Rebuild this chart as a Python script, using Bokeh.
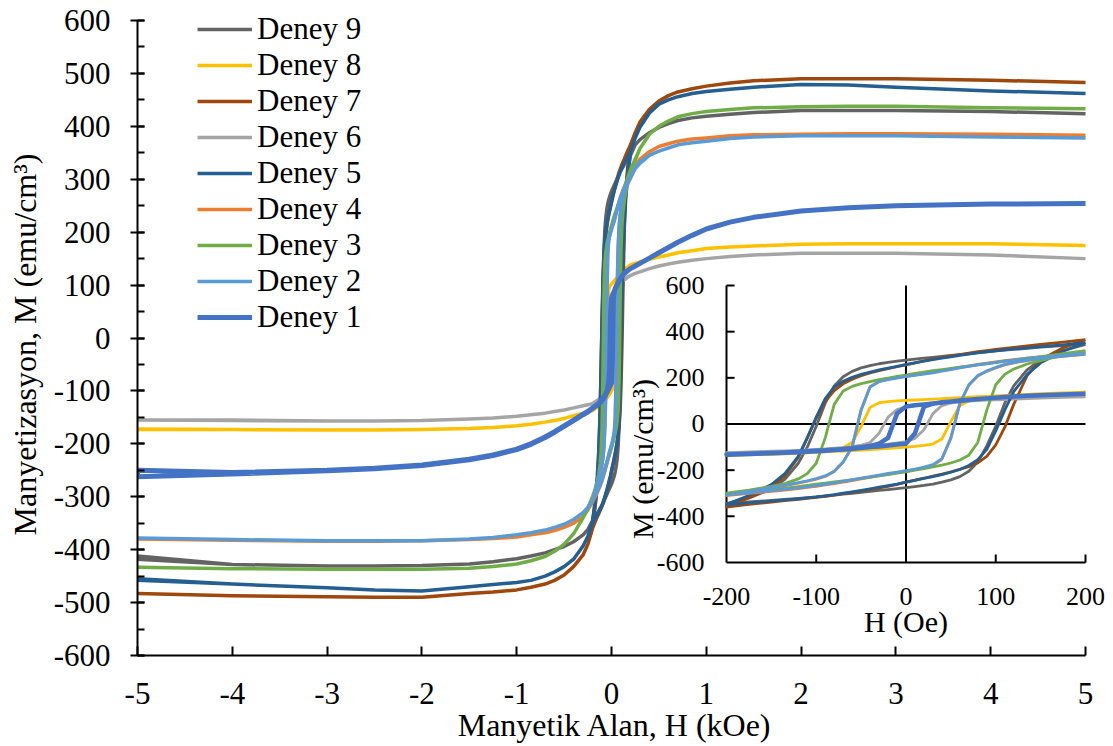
import math
from bokeh.plotting import figure
from bokeh.models import (Range1d, SingleIntervalTicker, Legend, LegendItem,
                          PrintfTickFormatter, LabelSet, ColumnDataSource)
from bokeh.core.properties import value
from bokeh.embed import file_html
from bokeh.resources import INLINE

# ---------------- data ----------------
# field grid in Oe: descending branch (+5 kOe -> -5 kOe) and ascending branch (-5 kOe -> +5 kOe)
h_down = [5000, 4000, 3000, 2500, 2000, 1500, 1250, 1000, 850, 700, 600, 500, 400, 300, 250,
          200, 175, 150, 135, 120, 110, 100, 90, 80, 70, 60, 50, 40, 30, 20, 10,
          0,
          -10, -20, -30, -40, -50, -60, -70, -80, -90, -100, -110, -120, -135, -150, -175, -200,
          -250, -300, -400, -500, -600, -700, -850, -1000, -1250, -1500, -2000, -2500, -3000, -4000, -5000]
h_up = [-5000, -4000, -3000, -2500, -2000, -1500, -1250, -1000, -850, -700, -600, -500, -400, -300, -250,
        -200, -175, -150, -135, -120, -110, -100, -90, -80, -70, -60, -50, -40, -30, -20, -10,
        0,
        10, 20, 30, 40, 50, 60, 70, 80, 90, 100, 110, 120, 135, 150, 175, 200,
        250, 300, 400, 500, 600, 700, 850, 1000, 1250, 1500, 2000, 2500, 3000, 4000, 5000]

series_names = ["Deney 9", "Deney 8", "Deney 7", "Deney 6", "Deney 5",
                "Deney 4", "Deney 3", "Deney 2", "Deney 1"]

m9_down = [424, 428, 430, 430, 430, 426, 423, 419, 416, 411, 405, 398, 388, 375, 365,
           348, 340, 333, 328, 323, 320, 317, 313, 309, 305, 301, 297, 293, 289, 285, 281,
           277,
           272, 267, 261, 253, 243, 228, 205, 165, 90, -10, -100, -170, -240, -282, -320, -345,
           -362, -372, -385, -394, -400, -406, -412, -417, -423, -427, -430, -431, -431, -428, -418]
m9_up = [-412, -428, -431, -431, -430, -427, -423, -417, -412, -406, -400, -394, -385, -372, -362,
         -345, -338, -331, -327, -322, -319, -316, -312, -308, -304, -300, -296, -292, -288, -284, -280,
         -276,
         -271, -266, -260, -252, -242, -228, -205, -165, -95, -10, 90, 165, 235, 278, 318, 345,
         365, 375, 388, 398, 405, 411, 416, 419, 423, 426, 430, 430, 430, 428, 424]

m8_down = [175, 178, 178, 178, 177, 174, 172, 169, 165, 161, 157, 153, 149, 144, 141,
           138, 134, 131, 128, 126, 124, 122, 120, 118, 116, 114, 112, 110, 108, 106, 104,
           102,
           100, 97, 92, 72, -10, -80, -102, -112, -117, -120, -123, -125, -128, -131, -134, -137,
           -140, -142, -147, -152, -156, -159, -163, -166, -169, -171, -173, -174, -174, -173, -172]
m8_up = [-173, -173, -174, -174, -173, -171, -169, -166, -163, -159, -156, -152, -147, -142, -140,
         -137, -134, -131, -129, -127, -125, -123, -121, -119, -117, -115, -113, -111, -109, -106, -103,
         -100,
         -97, -93, -87, -65, 10, 80, 100, 110, 115, 119, 122, 125, 128, 131, 135, 138,
         141, 144, 149, 153, 157, 161, 165, 169, 172, 174, 177, 178, 178, 178, 175]

m7_down = [483, 487, 490, 490, 490, 486, 482, 476, 471, 465, 458, 448, 432, 408, 388,
           365, 355, 345, 338, 332, 328, 323, 318, 313, 307, 301, 295, 288, 281, 273, 265,
           256,
           248, 240, 231, 221, 209, 194, 174, 145, 98, 25, -60, -145, -225, -275, -320, -358,
           -390, -410, -432, -448, -458, -465, -471, -476, -480, -483, -490, -490, -489, -487, -483]
m7_up = [-483, -487, -489, -490, -490, -483, -480, -476, -471, -465, -458, -448, -432, -410, -390,
         -360, -348, -338, -332, -326, -322, -318, -313, -308, -302, -296, -290, -284, -277, -270, -262,
         -252,
         -243, -235, -226, -217, -207, -196, -185, -168, -140, -90, -15, 85, 210, 278, 330, 365,
         388, 408, 432, 448, 458, 465, 471, 476, 482, 486, 490, 490, 490, 487, 483]

m6_down = [150, 157, 160, 160, 160, 157, 154, 150, 147, 143, 140, 136, 131, 125, 122,
           118, 115, 112, 110, 108, 106, 105, 103, 101, 99, 97, 95, 92, 89, 85, 80,
           74,
           62, 30, -40, -80, -92, -98, -102, -105, -108, -110, -112, -114, -116, -118, -121, -124,
           -126, -128, -132, -136, -139, -142, -145, -148, -151, -153, -156, -157, -157, -155, -155]
m6_up = [-155, -156, -157, -157, -156, -153, -151, -148, -145, -142, -139, -136, -132, -128, -126,
         -124, -121, -118, -116, -114, -112, -110, -108, -106, -104, -101, -98, -95, -91, -87, -82,
         -76,
         -62, -25, 45, 80, 91, 97, 100, 102, 104, 106, 108, 110, 112, 114, 116, 118,
         122, 125, 131, 136, 140, 143, 147, 150, 154, 157, 160, 160, 160, 157, 150]

m5_down = [462, 467, 474, 478, 479, 474, 470, 466, 462, 456, 450, 442, 425, 398, 378,
           352, 343, 335, 330, 325, 321, 317, 313, 308, 303, 297, 291, 285, 279, 272, 265,
           258,
           250, 242, 234, 225, 215, 202, 185, 160, 110, 30, -60, -140, -215, -262, -310, -348,
           -375, -393, -418, -432, -442, -450, -458, -462, -466, -470, -478, -476, -472, -465, -458]
m5_up = [-455, -465, -472, -476, -478, -470, -466, -462, -458, -450, -442, -432, -418, -393, -375,
         -350, -342, -334, -329, -324, -320, -316, -311, -306, -300, -294, -288, -281, -274, -267, -260,
         -252,
         -244, -236, -228, -219, -209, -197, -180, -155, -110, -30, 60, 140, 215, 265, 315, 352,
         378, 398, 425, 442, 450, 456, 462, 466, 470, 474, 479, 478, 474, 467, 462]

m4_down = [383, 385, 386, 386, 385, 384, 382, 378, 376, 372, 367, 362, 352, 338, 325,
           308, 300, 291, 285, 279, 274, 269, 264, 258, 252, 245, 238, 231, 224, 218, 213,
           207,
           201, 194, 185, 162, 62, -98, -165, -206, -227, -239, -248, -256, -267, -278, -295, -310,
           -325, -338, -350, -358, -364, -368, -372, -376, -379, -381, -383, -384, -384, -382, -380]
m4_up = [-380, -382, -384, -384, -383, -381, -379, -376, -372, -368, -364, -358, -350, -338, -325,
         -310, -301, -292, -286, -280, -275, -270, -264, -258, -252, -245, -238, -231, -224, -217, -211,
         -205,
         -198, -190, -179, -153, -62, 88, 168, 208, 228, 243, 256, 265, 275, 283, 293, 302,
         322, 335, 352, 362, 367, 372, 376, 378, 382, 384, 385, 386, 386, 385, 383]

m3_down = [433, 435, 438, 438, 437, 435, 432, 428, 424, 418, 410, 400, 385, 358, 338,
           318, 305, 292, 285, 277, 272, 266, 261, 256, 251, 246, 241, 236, 231, 225, 219,
           212,
           206, 199, 192, 184, 175, 163, 143, 85, -60, -170, -215, -238, -258, -270, -287, -300,
           -322, -340, -370, -390, -403, -413, -421, -427, -432, -435, -437, -437, -437, -436, -433]
m3_up = [-433, -436, -437, -437, -437, -435, -432, -427, -421, -413, -403, -390, -370, -340, -322,
         -305, -296, -285, -278, -271, -266, -261, -256, -251, -246, -241, -236, -230, -225, -219, -213,
         -207,
         -200, -193, -186, -178, -169, -156, -135, -80, 60, 170, 215, 238, 260, 275, 298, 315,
         336, 358, 385, 400, 410, 418, 424, 428, 432, 435, 437, 438, 438, 435, 433]

m2_down = [378, 380, 382, 382, 382, 380, 377, 372, 369, 365, 359, 353, 345, 333, 322,
           306, 298, 289, 283, 277, 272, 267, 262, 256, 250, 243, 236, 229, 222, 216, 211,
           205,
           199, 192, 183, 160, 60, -100, -165, -205, -225, -237, -246, -254, -265, -275, -292, -307,
           -320, -330, -343, -352, -358, -363, -368, -372, -377, -380, -383, -383, -383, -381, -378]
m2_up = [-378, -381, -383, -383, -383, -380, -377, -372, -368, -363, -358, -352, -343, -330, -320,
         -307, -298, -289, -283, -277, -272, -267, -261, -255, -249, -242, -235, -228, -221, -214, -208,
         -202,
         -195, -187, -176, -150, -60, 90, 170, 210, 230, 245, 258, 266, 276, 284, 294, 303,
         320, 330, 345, 353, 359, 365, 369, 372, 377, 380, 382, 382, 382, 380, 378]

m1_down = [254, 253, 250, 246, 240, 228, 219, 206, 194, 181, 171, 161, 151, 141, 136,
           131, 128, 124, 122, 119, 117, 114, 111, 108, 104, 101, 97, 93, 89, 85, 81,
           76,
           45, -60, -85, -95, -101, -105, -108, -111, -114, -116, -118, -120, -123, -126, -129, -132,
           -139, -144, -155, -166, -177, -187, -200, -210, -221, -229, -240, -246, -250, -254, -250]
m1_up = [-262, -257, -251, -247, -241, -230, -222, -211, -201, -188, -178, -167, -156, -145, -140,
         -133, -130, -127, -125, -122, -120, -118, -116, -113, -110, -107, -104, -100, -97, -93, -89,
         -85,
         -40, 75, 88, 94, 98, 102, 105, 108, 111, 114, 117, 119, 122, 125, 128, 131,
         136, 141, 151, 161, 171, 181, 194, 206, 219, 228, 240, 246, 250, 253, 254]

series_down = [m9_down, m8_down, m7_down, m6_down, m5_down, m4_down, m3_down, m2_down, m1_down]
series_up = [m9_up, m8_up, m7_up, m6_up, m5_up, m4_up, m3_up, m2_up, m1_up]

main_x_ticks = [-5, 5]
main_y_ticks = [-600, 600]
inset_x_ticks = [-200, -100, 0, 100, 200]
inset_y_ticks = [-600, -400, -200, 0, 200, 400, 600]

# ---------------- styles ----------------
colors = ["#636363", "#FFC000", "#9E480E", "#A5A5A5", "#255E91",
          "#ED7D31", "#70AD47", "#5B9BD5", "#4472C4"]
main_widths = [3.5, 3.5, 3.5, 3.5, 3.5, 3.5, 3.5, 3.5, 5]
inset_widths = [2.8, 2.8, 2.8, 2.8, 2.8, 2.8, 2.8, 2.8, 4.5]
FONT = "Liberation Serif"
NB = "\u00a0"

# frame spans x 137..1108 px and y 9..655 px; the main axes are bounded to the data box
p = figure(width=1113, height=746,
           x_range=Range1d(-5, 5.2426), y_range=Range1d(-600, 620.79),
           output_backend="svg", toolbar_location=None,
           min_border_left=137, min_border_right=5,
           min_border_top=9, min_border_bottom=91)
p.background_fill_color = "white"
p.border_fill_color = "white"
p.outline_line_color = None
p.xgrid.visible = False
p.ygrid.visible = False

p.xaxis.ticker = SingleIntervalTicker(interval=1, num_minor_ticks=0)
p.yaxis.ticker = SingleIntervalTicker(interval=100, num_minor_ticks=2)
p.xaxis.bounds = (main_x_ticks[0], main_x_ticks[-1])
p.yaxis.bounds = (main_y_ticks[0], main_y_ticks[-1])
p.xaxis.formatter = PrintfTickFormatter(format="%d")
p.yaxis.formatter = PrintfTickFormatter(format="%d")
p.xaxis.axis_label = "Manyetik Alan, H (kOe)" + NB * 2
p.yaxis.axis_label = "Manyetizasyon, M (emu/cm³)" + NB * 3
for ax in (p.xaxis[0], p.yaxis[0]):
    ax.axis_line_color = "black"
    ax.axis_line_width = 2
    ax.major_tick_line_color = "black"
    ax.major_tick_line_width = 2
    ax.minor_tick_line_color = "black"
    ax.minor_tick_line_width = 2
    ax.major_label_text_font = FONT
    ax.major_label_text_font_size = "31px"
    ax.major_label_text_color = "black"
    ax.axis_label_text_font = FONT
    ax.axis_label_text_font_size = "32px"
    ax.axis_label_text_font_style = "normal"
    ax.axis_label_text_color = "black"

p.xaxis.major_tick_in = 9
p.xaxis.major_tick_out = 0
p.xaxis.minor_tick_in = 0
p.xaxis.minor_tick_out = 0
p.xaxis.major_label_standoff = 27
p.xaxis.axis_label_standoff = 0

p.yaxis.major_tick_in = 7
p.yaxis.major_tick_out = 7
p.yaxis.minor_tick_in = 7
p.yaxis.minor_tick_out = 0
p.yaxis.major_label_standoff = 20
p.yaxis.axis_label_standoff = 8

# ---------------- main loops ----------------
renderers = []
for i, name in enumerate(series_names):
    xs = [h / 1000 for h in h_down] + [h / 1000 for h in h_up]
    ys = series_down[i] + series_up[i]
    r = p.line(xs, ys, line_color=colors[i], line_width=main_widths[i], line_join="round")
    renderers.append(r)

legend = Legend(items=[LegendItem(label=n, renderers=[r]) for n, r in zip(series_names, renderers)],
                location=(60, 320))
legend.label_text_font = FONT
legend.label_text_font_size = "31px"
legend.label_text_color = "black"
legend.glyph_width = 55
legend.glyph_height = 34
legend.label_height = 34
legend.label_standoff = 5
legend.spacing = 0
legend.padding = 0
legend.margin = 0
legend.border_line_color = None
legend.background_fill_alpha = 0
p.add_layout(legend)

# ---------------- inset (own scales mapped over the frame) ----------------
p.extra_x_ranges = {"ix": Range1d(-856.27, 225.63)}
p.extra_y_ranges = {"iy": Range1d(-1002.9, 1795.67)}
IK = dict(x_range_name="ix", y_range_name="iy")

xmin, xmax = inset_x_ticks[0], inset_x_ticks[-1]
ymin, ymax = inset_y_ticks[0], inset_y_ticks[-1]

# axis lines and zero lines
p.segment(x0=[xmin, xmin, 0, xmin], y0=[ymin, ymin, ymin, 0],
          x1=[xmin, xmax, 0, xmax], y1=[ymax, ymin, ymax, 0],
          line_color="black", line_width=2, **IK)
# ticks (inside)
ytk = [v for v in inset_y_ticks if v != ymin]
p.segment(x0=[xmin] * len(ytk), y0=ytk, x1=[xmin + 9] * len(ytk), y1=ytk,
          line_color="black", line_width=2, **IK)
xtk = [v for v in inset_x_ticks if v != xmin]
p.segment(x0=xtk, y0=[ymin] * len(xtk), x1=xtk, y1=[ymin + 35] * len(xtk),
          line_color="black", line_width=2, **IK)

for i, name in enumerate(series_names):
    xs, ys = [], []
    for h, m in zip(h_down, series_down[i]):
        if abs(h) <= xmax:
            xs.append(h); ys.append(m)
    for h, m in zip(h_up, series_up[i]):
        if abs(h) <= xmax:
            xs.append(h); ys.append(m)
    p.line(xs, ys, line_color=colors[i], line_width=inset_widths[i], line_join="round", **IK)

# inset tick labels and titles
ysrc = ColumnDataSource(dict(x=[xmin] * len(inset_y_ticks), y=inset_y_ticks,
                             t=[str(v) for v in inset_y_ticks]))
p.add_layout(LabelSet(x="x", y="y", text="t", source=ysrc, x_range_name="ix", y_range_name="iy",
                      text_font=value(FONT), text_font_size=value("26px"), text_color="black",
                      text_align="right", text_baseline="middle", x_offset=-22))
xsrc = ColumnDataSource(dict(x=inset_x_ticks, y=[ymin] * len(inset_x_ticks),
                             t=[str(v) for v in inset_x_ticks]))
p.add_layout(LabelSet(x="x", y="y", text="t", source=xsrc, x_range_name="ix", y_range_name="iy",
                      text_font=value(FONT), text_font_size=value("26px"), text_color="black",
                      text_align="center", text_baseline="middle", y_offset=-34))
tsrc = ColumnDataSource(dict(x=[0], y=[ymin], t=["H (Oe)"]))
p.add_layout(LabelSet(x="x", y="y", text="t", source=tsrc, x_range_name="ix", y_range_name="iy",
                      text_font=value(FONT), text_font_size=value("30px"), text_color="black",
                      text_align="center", text_baseline="middle", y_offset=-59))
msrc = ColumnDataSource(dict(x=[xmin], y=[0], t=["M (emu/cm³)"]))
p.add_layout(LabelSet(x="x", y="y", text="t", source=msrc, x_range_name="ix", y_range_name="iy",
                      angle=math.pi / 2,
                      text_font=value(FONT), text_font_size=value("30px"), text_color="black",
                      text_align="center", text_baseline="middle", x_offset=-84, y_offset=-35))

open("out.html", "w").write(file_html(p, INLINE, title="Manyetizasyon"))
